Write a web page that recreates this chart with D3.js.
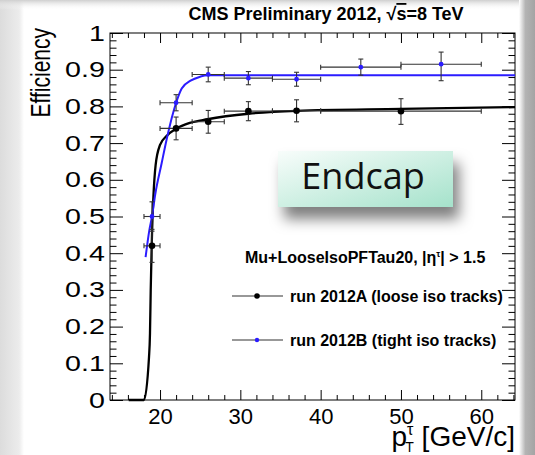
<!DOCTYPE html>
<html>
<head>
<meta charset="utf-8">
<script src="https://cdn.jsdelivr.net/npm/d3@7"></script>
<style>
    body { margin: 0; background: #fff; }
    svg { display: block; font-family: "Liberation Sans", Arial, sans-serif; }
</style>
</head>
<body>
<div class="chart"></div>
<script>
// Data: run 2012A (loose iso tracks)
const ptA = [19, 22, 26, 31, 37, 50];
const binLoA = [18, 20, 24, 28, 34, 40];
const binHiA = [20, 24, 28, 34, 40, 60];
const effA = [0.42, 0.74, 0.758, 0.787, 0.788, 0.787];
const errUpA = [0.045, 0.031, 0.031, 0.026, 0.03, 0.034];
const errDnA = [0.045, 0.031, 0.031, 0.026, 0.03, 0.036];

// Data: run 2012B (tight iso tracks)
const ptB = [19, 22, 26, 31, 37, 45, 55];
const binLoB = [18, 20, 24, 28, 34, 40, 50];
const binHiB = [20, 24, 28, 34, 40, 50, 60];
const effB = [0.50, 0.81, 0.887, 0.877, 0.874, 0.907, 0.915];
const errUpB = [0.04, 0.022, 0.02, 0.018, 0.019, 0.022, 0.033];
const errDnB = [0.04, 0.022, 0.02, 0.018, 0.019, 0.022, 0.045];

// Fit curves
const fitAx = [16.1, 18.0, 18.63, 18.75, 18.84, 18.96, 19.45, 20.0, 20.8, 22.0, 23.7, 25.9, 31, 37, 50, 64.2];
const fitAy = [0, 0, 0.118, 0.182, 0.30, 0.418, 0.64, 0.695, 0.719, 0.739, 0.755, 0.765, 0.780, 0.788, 0.793, 0.798];
const fitBx = [18.2, 18.67, 19.0, 19.4, 20.2, 20.8, 22.0, 22.7, 23.8, 25.0, 25.9, 64.2];
const fitBy = [0.389, 0.463, 0.50, 0.56, 0.645, 0.708, 0.81, 0.849, 0.870, 0.881, 0.885, 0.885];

// Axes
const xTicks = [20, 30, 40, 50, 60];
const xTickLabels = ['20', '30', '40', '50', '60'];
const yTicks = [0, 0.1, 0.2, 0.3, 0.4, 0.5, 0.6, 0.7, 0.8, 0.9, 1];
const yTickLabels = ['0', '0.1', '0.2', '0.3', '0.4', '0.5', '0.6', '0.7', '0.8', '0.9', '1'];

const svgWidth = 535;
const svgHeight = 455;
const frame = { left: 110, top: 33, right: 515, bottom: 400 };

const svg = d3.select('.chart')
    .append('svg')
    .attr('width', svgWidth)
    .attr('height', svgHeight);

const defs = svg.append('defs');

// slide edges
const gLeft = defs.append('linearGradient').attr('id', 'gLeft');
gLeft.append('stop').attr('offset', '0%').attr('stop-color', '#dcdcdc');
gLeft.append('stop').attr('offset', '80%').attr('stop-color', '#ececec');
gLeft.append('stop').attr('offset', '100%').attr('stop-color', '#fff');
const gTop = defs.append('linearGradient').attr('id', 'gTop').attr('x2', 0).attr('y2', 1);
gTop.append('stop').attr('offset', '0%').attr('stop-color', '#cfcfcf');
gTop.append('stop').attr('offset', '100%').attr('stop-color', '#fff').attr('stop-opacity', 0);
const gRight = defs.append('linearGradient').attr('id', 'gRight');
gRight.append('stop').attr('offset', '0%').attr('stop-color', '#fff');
gRight.append('stop').attr('offset', '40%').attr('stop-color', '#b4b4b4');
gRight.append('stop').attr('offset', '100%').attr('stop-color', '#a4a4a4');
const gBox = defs.append('linearGradient').attr('id', 'gBox').attr('x2', 1).attr('y2', 1);
gBox.append('stop').attr('offset', '0%').attr('stop-color', '#f8fdfb');
gBox.append('stop').attr('offset', '100%').attr('stop-color', '#a5e2cb');
const shadow = defs.append('filter').attr('id', 'shadow')
    .attr('x', '-20%').attr('y', '-20%').attr('width', '150%').attr('height', '180%');
shadow.append('feDropShadow').attr('dx', 6).attr('dy', 12).attr('stdDeviation', 7)
    .attr('flood-color', '#000').attr('flood-opacity', 0.5);

svg.append('rect').attr('x', 0).attr('y', 0).attr('width', 24).attr('height', svgHeight).attr('fill', 'url(#gLeft)');
svg.append('rect').attr('x', 0).attr('y', 0).attr('width', svgWidth).attr('height', 10).attr('fill', 'url(#gTop)');
svg.append('rect').attr('x', 519).attr('y', 0).attr('width', 16).attr('height', svgHeight).attr('fill', 'url(#gRight)');

// Scales
const xScale = d3.scaleLinear().domain([13.77, 64.2]).range([frame.left, frame.right]);
const yScale = d3.scaleLinear().domain([0, 1]).range([frame.bottom, frame.top]);

const xMinor = d3.range(14, 65, 2).filter(v => v % 10 !== 0);
const yMinor = d3.range(0, 101, 2).filter(v => v % 10 !== 0).map(v => v / 100);

function drawAxis(axisFn, scale, values, size, transform, labels) {
    const axis = axisFn(scale)
        .tickValues(values)
        .tickSizeInner(size)
        .tickSizeOuter(0)
        .tickPadding(labels ? 8 : 0)
        .tickFormat((d, i) => labels ? labels[i] : '');
    const g = svg.append('g').attr('transform', transform);
    axis(g);
    g.select('.domain').remove();
    g.selectAll('line').attr('stroke', '#000').attr('stroke-width', 1);
    g.selectAll('text').attr('fill', '#000').style('font-size', '22px').style('font-family', '"Liberation Sans", Arial, sans-serif');
    return g;
}

// bottom / top
drawAxis(d3.axisBottom, xScale, xTicks, -10, `translate(0,${frame.bottom})`, xTickLabels);
drawAxis(d3.axisBottom, xScale, xMinor, -5, `translate(0,${frame.bottom})`, null);
drawAxis(d3.axisTop, xScale, xTicks, -10, `translate(0,${frame.top})`, null);
drawAxis(d3.axisTop, xScale, xMinor, -5, `translate(0,${frame.top})`, null);
// left / right (left labels are drawn wider, as in the original)
const yAx = drawAxis(d3.axisLeft, yScale, yTicks, -13, `translate(${frame.left},0)`, yTickLabels);
yAx.selectAll('text').attr('x', -4).attr('transform', 'scale(1.3,1)');
drawAxis(d3.axisLeft, yScale, yMinor, -6.5, `translate(${frame.left},0)`, null);
drawAxis(d3.axisRight, yScale, yTicks, -13, `translate(${frame.right},0)`, null);
drawAxis(d3.axisRight, yScale, yMinor, -6.5, `translate(${frame.right},0)`, null);

svg.append('rect')
    .attr('x', frame.left).attr('y', frame.top)
    .attr('width', frame.right - frame.left).attr('height', frame.bottom - frame.top)
    .attr('fill', 'none').attr('stroke', '#000').attr('stroke-width', 1);

// Fit curves
const line = d3.line()
    .x(d => xScale(d[0]))
    .y(d => yScale(d[1]))
    .curve(d3.curveMonotoneX);

svg.append('path')
    .datum(fitAx.map((v, i) => [v, fitAy[i]]))
    .attr('d', line)
    .attr('fill', 'none').attr('stroke', '#000').attr('stroke-width', 2.3);

svg.append('path')
    .datum(fitBx.map((v, i) => [v, fitBy[i]]))
    .attr('d', line)
    .attr('fill', 'none').attr('stroke', '#2b1cff').attr('stroke-width', 2);

// Points with error bars
function drawPoints(pt, lo, hi, eff, up, dn, color, r) {
    const data = pt.map((p, i) => ({ p, lo: lo[i], hi: hi[i], e: eff[i], up: up[i], dn: dn[i] }));
    const g = svg.append('g').attr('stroke', '#333').attr('stroke-width', 1.1);
    const cap = 2.5;
    data.forEach(d => {
        const cx = xScale(d.p), cy = yScale(d.e);
        const x0 = xScale(d.lo), x1 = xScale(d.hi);
        const y0 = yScale(d.e - d.dn), y1 = yScale(d.e + d.up);
        g.append('line').attr('x1', x0).attr('x2', x1).attr('y1', cy).attr('y2', cy);
        g.append('line').attr('x1', cx).attr('x2', cx).attr('y1', y0).attr('y2', y1);
        g.append('line').attr('x1', x0).attr('x2', x0).attr('y1', cy - cap).attr('y2', cy + cap);
        g.append('line').attr('x1', x1).attr('x2', x1).attr('y1', cy - cap).attr('y2', cy + cap);
        g.append('line').attr('x1', cx - cap).attr('x2', cx + cap).attr('y1', y0).attr('y2', y0);
        g.append('line').attr('x1', cx - cap).attr('x2', cx + cap).attr('y1', y1).attr('y2', y1);
    });
    svg.append('g').selectAll('circle')
        .data(data)
        .enter()
        .append('circle')
        .attr('cx', d => xScale(d.p))
        .attr('cy', d => yScale(d.e))
        .attr('r', r)
        .attr('fill', color);
}

drawPoints(ptA, binLoA, binHiA, effA, errUpA, errDnA, '#000', 3.3);
drawPoints(ptB, binLoB, binHiB, effB, errUpB, errDnB, '#2b1cff', 2.4);

// Title
const title = svg.append('text')
    .attr('x', 326).attr('y', 20)
    .attr('text-anchor', 'middle')
    .style('font-size', '18px').style('font-weight', 'bold');
title.append('tspan').text('CMS Preliminary 2012, √');
title.append('tspan').style('text-decoration', 'overline').text('s');
title.append('tspan').text('=8 TeV');

// Axis titles
svg.append('text')
    .attr('transform', 'translate(50,28) scale(1.3,1) rotate(-90)')
    .attr('text-anchor', 'end')
    .style('font-size', '21px')
    .text('Efficiency');

const xt = svg.append('text')
    .attr('x', 515).attr('y', 446)
    .attr('text-anchor', 'end')
    .style('font-size', '28px');
xt.append('tspan').text('p');
xt.append('tspan').attr('dy', -11).style('font-size', '16px').text('τ');
xt.append('tspan').attr('dx', -8).attr('dy', 17).style('font-size', '14px').text('T');
xt.append('tspan').attr('dy', -6).text(' [GeV/c]');

// Legend
svg.append('text')
    .attr('x', 245).attr('y', 263)
    .style('font-size', '16px').style('font-weight', 'bold')
    .call(t => {
        t.append('tspan').text('Mu+LooseIsoPFTau20, |η');
        t.append('tspan').attr('dy', -6).style('font-size', '9px').text('τ');
        t.append('tspan').attr('dy', 6).text('| > 1.5');
    });

const legendRows = [
    { label: 'run 2012A (loose iso tracks)', color: '#000', r: 2.8, y: 296 },
    { label: 'run 2012B (tight iso tracks)', color: '#2b1cff', r: 2.2, y: 340 }
];
legendRows.forEach(row => {
    svg.append('line')
        .attr('x1', 232).attr('x2', 283).attr('y1', row.y).attr('y2', row.y)
        .attr('stroke', '#333').attr('stroke-width', 1.1);
    svg.append('circle').attr('cx', 257).attr('cy', row.y).attr('r', row.r).attr('fill', row.color);
    svg.append('text')
        .attr('x', 290).attr('y', row.y + 6)
        .style('font-size', '16px').style('font-weight', 'bold')
        .text(row.label);
});

// Endcap box
svg.append('rect')
    .attr('x', 278).attr('y', 151).attr('width', 175).attr('height', 56)
    .attr('fill', 'url(#gBox)')
    .attr('filter', 'url(#shadow)');
svg.append('text')
    .attr('x', 363).attr('y', 189)
    .attr('text-anchor', 'middle')
    .style('font-family', '"Open Sans", Lato, sans-serif')
    .style('font-size', '36px')
    .attr('fill', '#111')
    .text('Endcap');
</script>
</body>
</html>
